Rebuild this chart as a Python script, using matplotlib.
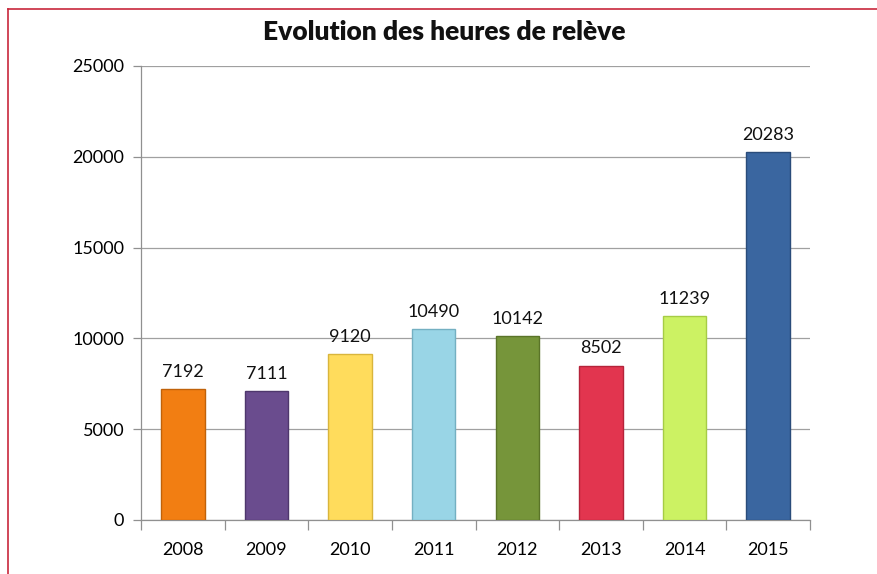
import numpy as np
import matplotlib.pyplot as plt
from matplotlib.lines import Line2D

annees = ['2008', '2009', '2010', '2011', '2012', '2013', '2014', '2015']
heures = [7192, 7111, 9120, 10490, 10142, 8502, 11239, 20283]
couleurs = ['#F27E12', '#6A4C8E', '#FFDC5C', '#99D5E6', '#76953A',
            '#E2354F', '#CCF263', '#3A66A0']
bords = ['#C0620A', '#4E376C', '#D9B53C', '#74B0C2', '#5A7428',
         '#B5233A', '#A6CC45', '#2A4C7A']

plt.rcParams['font.family'] = ['Lato', 'DejaVu Sans']

fig = plt.figure(figsize=(8.77, 5.74), dpi=100)
ax = fig.add_axes([0.1608, 0.0941, 0.7628, 0.791])

ind = np.arange(len(annees))
barres = ax.bar(ind, heures, 0.52, color=couleurs, edgecolor=bords,
                linewidth=1.0, zorder=3)

for x, v in zip(ind, heures):
    ax.text(x, v + 500, str(v), ha='center', va='bottom', fontsize=13,
            color='#111111')

ax.set_xlim(-0.5, 7.5)
ax.set_ylim(0, 25000)
ax.set_yticks(range(0, 25001, 5000))
ax.yaxis.grid(True, color='#A0A0A0', linewidth=0.9, zorder=0)

ax.set_xticks(ind)
ax.set_xticklabels(annees)
ax.set_xticks(np.arange(-0.5, 8, 1), minor=True)
ax.tick_params(axis='x', which='major', length=0, pad=16, labelsize=13)
ax.tick_params(axis='x', which='minor', length=7, color='#909090', width=0.9)
ax.tick_params(axis='y', length=6, color='#909090', width=0.9, labelsize=13,
               pad=6)

for cote in ['top', 'right']:
    ax.spines[cote].set_visible(False)
for cote in ['left', 'bottom']:
    ax.spines[cote].set_color('#909090')
    ax.spines[cote].set_linewidth(0.9)

fig.text(0.507, 0.945, 'Evolution des heures de relève', ha='center',
         va='center', fontsize=19, fontweight='heavy', color='#111111')

# cadre rouge
fig.add_artist(Line2D([0.0091, 0.0091], [0.0, 0.984], color='#C8283C', lw=1.2))
fig.add_artist(Line2D([0.0091, 1.0], [0.984, 0.984], color='#C8283C', lw=1.2))

fig.savefig('out.png', dpi=100)
